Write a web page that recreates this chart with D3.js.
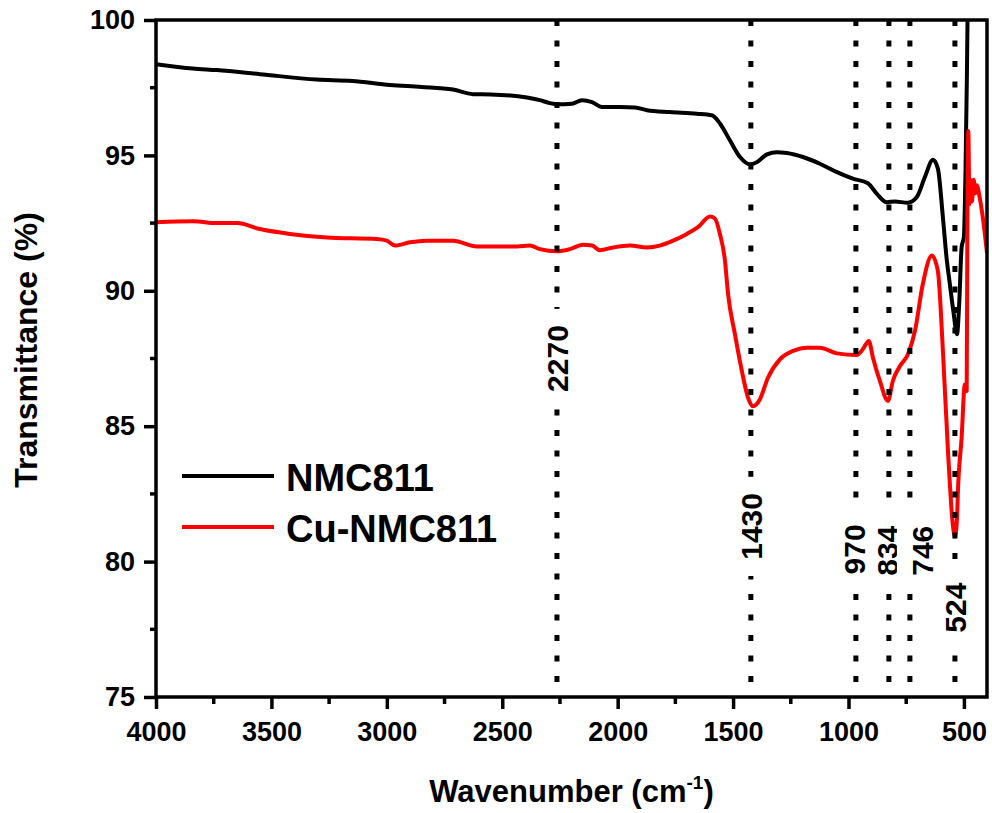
<!DOCTYPE html>
<html lang="en">
<head>
<meta charset="utf-8">
<title>FTIR NMC811 / Cu-NMC811</title>
<script src="https://cdn.jsdelivr.net/npm/d3@7"></script>
<style>
  body { margin: 0; background: #fff; }
  text { font-family: Arial, "Liberation Sans", sans-serif; fill: #000; }
  .tick text { font-size: 27px; font-weight: bold; }
</style>
</head>
<body>
<script>
// spectra (wavenumber cm-1, transmittance %)
var wnBlack = [4000, 3840, 3736, 3550, 3303, 3150, 2986, 2850, 2713, 2627, 2550, 2393, 2337, 2293, 2263, 2198, 2155, 2111, 2068,
  1990, 1925, 1873, 1774, 1657, 1592, 1557, 1514, 1470, 1427, 1397, 1353, 1310, 1267, 1197, 1124, 1050, 981, 916, 877,
  834, 799, 743, 704, 669, 634, 613, 591, 575, 561, 545, 530, 520, 510, 500, 493, 487, 482, 470, 400];
var tBlack = [98.37, 98.21, 98.15, 98.0, 97.8, 97.75, 97.6, 97.53, 97.43, 97.26, 97.25, 97.14, 97.04, 96.93, 96.89, 96.91, 97.04, 96.97, 96.79,
  96.79, 96.77, 96.67, 96.6, 96.54, 96.48, 96.18, 95.56, 94.94, 94.67, 94.75, 95.04, 95.12, 95.09, 94.94, 94.69, 94.38, 94.14, 93.97, 93.58,
  93.27, 93.3, 93.25, 93.46, 94.2, 94.84, 94.52, 92.71, 91.2, 90.25, 89.2, 88.4, 89.6, 91.6, 92.0, 94.5, 98.0, 101.5, 103, 103];

var wnRed = [4000, 3840, 3736, 3649, 3550, 3420, 3260, 3043, 3000, 2965, 2900, 2826, 2713, 2610, 2436, 2380, 2337, 2263, 2207, 2150,
  2111, 2077, 2020, 1947, 1874, 1817, 1760, 1700, 1652, 1600, 1579, 1557, 1535, 1522, 1492, 1462, 1435, 1414, 1384, 1349, 1297,
  1240, 1180, 1124, 1050, 964, 938, 912, 894, 864, 829, 808, 777, 743, 712, 678, 639, 613, 591, 569, 548, 539, 530, 526, 510,
  496, 488, 485, 481, 476, 472, 465, 458, 450, 443, 435, 418, 400];
var tRed = [92.53, 92.57, 92.5, 92.5, 92.28, 92.1, 91.97, 91.91, 91.85, 91.67, 91.79, 91.85, 91.85, 91.64, 91.64, 91.67, 91.54, 91.46, 91.54, 91.7,
  91.67, 91.5, 91.6, 91.67, 91.6, 91.67, 91.85, 92.1, 92.35, 92.74, 92.67, 92.1, 91.1, 89.9, 88.4, 87.04, 86.05, 85.74, 85.99, 86.79, 87.47,
  87.78, 87.9, 87.9, 87.69, 87.63, 87.84, 88.15, 87.53, 86.67, 85.93, 86.67, 87.22, 87.65, 88.52, 90.25, 91.3, 90.74, 87.78, 84.07, 81.36, 80.93, 81.6, 82.6, 84.57,
  86.54, 86.3, 92.5, 95.9, 93.2, 94.1, 93.3, 94.1, 93.6, 93.9, 93.6, 92.7, 91.4];

var seriesNames = ["NMC811", "Cu-NMC811"];
var seriesColors = ["#000000", "#ff0000"];

// marked bands: where the dotted line sits, what it is labelled, label centre (in %)
var peakPos = [2263, 1423, 968, 825, 734, 539];
var peakLabels = ["2270", "1430", "970", "834", "746", "524"];
var peakLabelY = [87.5, 81.3, 80.45, 80.4, 80.4, 78.3];
var peakLabelDx = [0, 0, -2, -2, 12, 0];

var xTicks = [4000, 3500, 3000, 2500, 2000, 1500, 1000, 500];
var xMinor = [3750, 3250, 2750, 2250, 1750, 1250, 750];
var yTicks = [75, 80, 85, 90, 95, 100];
var yMinor = [77.5, 82.5, 87.5, 92.5, 97.5];

var w = 992, h = 813;
var plotL = 156, plotR = 987, plotT = 20, plotB = 697;

var x = d3.scaleLinear().domain([4000, 400]).range([plotL, plotR]);
var y = d3.scaleLinear().domain([75, 100]).range([plotB, plotT]);

var svg = d3.select("body").append("svg")
  .attr("width", w)
  .attr("height", h);

svg.append("clipPath").attr("id", "plot")
  .append("rect")
  .attr("x", plotL).attr("y", plotT)
  .attr("width", plotR - plotL).attr("height", plotB - plotT);

// curves
var line = d3.line()
  .x(function(d) { return x(d[0]); })
  .y(function(d) { return y(d[1]); })
  .curve(d3.curveMonotoneX);

var series = [d3.zip(wnBlack, tBlack), d3.zip(wnRed, tRed)];
svg.append("g").attr("clip-path", "url(#plot)")
  .selectAll("path")
  .data(series)
  .enter()
  .append("path")
  .attr("d", line)
  .attr("fill", "none")
  .attr("stroke", function(d, i) { return seriesColors[i]; })
  .attr("stroke-width", 4)
  .attr("stroke-linejoin", "round");

// dotted band markers
svg.selectAll("line.peak")
  .data(peakPos)
  .enter()
  .append("line")
  .attr("class", "peak")
  .attr("x1", function(d) { return x(d); })
  .attr("x2", function(d) { return x(d); })
  .attr("y1", plotT)
  .attr("y2", plotB)
  .attr("stroke", "#000")
  .attr("stroke-width", 5)
  .attr("stroke-dasharray", "6,14.5");

var labels = svg.selectAll("g.plabel")
  .data(peakLabels)
  .enter()
  .append("g")
  .attr("class", "plabel")
  .attr("transform", function(d, i) {
    return "translate(" + (x(peakPos[i]) + peakLabelDx[i]) + "," + y(peakLabelY[i]) + ") rotate(-90)";
  });

labels.append("rect")
  .attr("x", function(d) { return -d.length * 8.4 - 16; })
  .attr("y", function(d, i) { return -13 - peakLabelDx[i]; })
  .attr("width", function(d) { return d.length * 16.8 + 32; })
  .attr("height", 26)
  .attr("fill", "#fff");

labels.append("text")
  .attr("text-anchor", "middle")
  .attr("dy", "0.36em")
  .style("font-size", "30px")
  .style("font-weight", "bold")
  .text(function(d) { return d; });

// axes
var xAxis = svg.append("g")
  .attr("transform", "translate(0," + plotB + ")")
  .call(d3.axisBottom(x).tickValues(xTicks).tickSize(12).tickPadding(13).tickFormat(d3.format("d")));
xAxis.append("g").selectAll("line")
  .data(xMinor)
  .enter()
  .append("line")
  .attr("x1", function(d) { return x(d); })
  .attr("x2", function(d) { return x(d); })
  .attr("y1", 0).attr("y2", 7);

var yAxis = svg.append("g")
  .attr("transform", "translate(" + plotL + ",0)")
  .call(d3.axisLeft(y).tickValues(yTicks).tickSize(12).tickPadding(9).tickFormat(d3.format("d")));
yAxis.append("g").selectAll("line")
  .data(yMinor)
  .enter()
  .append("line")
  .attr("y1", function(d) { return y(d); })
  .attr("y2", function(d) { return y(d); })
  .attr("x1", 0).attr("x2", -6);

svg.selectAll(".domain").remove();
svg.selectAll("g line").filter(function() { return !this.classList.contains("peak"); })
  .attr("stroke", "#000")
  .attr("stroke-width", 3.5);

// frame
svg.append("rect")
  .attr("x", plotL).attr("y", plotT)
  .attr("width", plotR - plotL).attr("height", plotB - plotT)
  .attr("fill", "none")
  .attr("stroke", "#000")
  .attr("stroke-width", 3.5);

// axis titles
var xTitle = svg.append("text")
  .attr("x", (plotL + plotR) / 2)
  .attr("y", 802)
  .attr("text-anchor", "middle")
  .style("font-size", "31px")
  .style("font-weight", "bold");
xTitle.append("tspan").text("Wavenumber (cm");
xTitle.append("tspan").attr("dy", -13).style("font-size", "19px").text("-1");
xTitle.append("tspan").attr("dy", 13).text(")");

svg.append("text")
  .attr("transform", "translate(37,350) rotate(-90)")
  .attr("text-anchor", "middle")
  .style("font-size", "32px")
  .style("font-weight", "bold")
  .text("Transmittance (%)");

// legend
var legend = svg.selectAll("g.legend")
  .data(seriesNames)
  .enter()
  .append("g")
  .attr("class", "legend")
  .attr("transform", function(d, i) { return "translate(182," + (476 + i * 51) + ")"; });

legend.append("line")
  .attr("x1", 0).attr("x2", 92)
  .attr("stroke", function(d, i) { return seriesColors[i]; })
  .attr("stroke-width", 4);

legend.append("text")
  .attr("x", 104)
  .attr("y", 15)
  .style("font-size", "38px")
  .style("font-weight", "bold")
  .text(function(d) { return d; });
</script>
</body>
</html>
